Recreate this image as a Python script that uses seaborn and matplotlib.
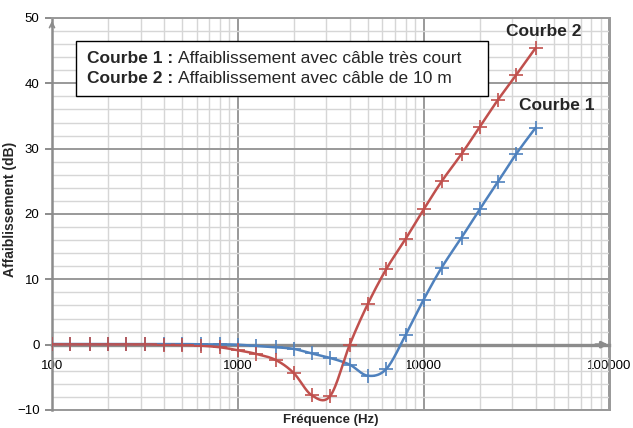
import numpy as np
import pandas as pd
import matplotlib
matplotlib.use("Agg")
import matplotlib.pyplot as plt
import seaborn as sns
from matplotlib.ticker import FixedLocator, LogLocator, MultipleLocator, NullFormatter
from matplotlib.patches import Rectangle

# third-octave frequencies (Hz)
freqs = [100, 125, 160, 200, 250, 315, 400, 500, 630, 800, 1000, 1250, 1600,
         2000, 2500, 3150, 4000, 5000, 6300, 8000, 10000, 12500, 16000,
         20000, 25000, 31500, 40000]

# Courbe 1 : cable tres court (blue)
courbe1 = [0.1, 0.1, 0.1, 0.1, 0.1, 0.1, 0.1, 0.1, 0.05, 0.05, 0.0, -0.2, -0.4,
           -0.65, -1.35, -2.05, -3.06, -4.75, -3.7, 1.5, 6.9, 11.8, 16.4,
           20.7, 24.85, 29.2, 33.2]

# Courbe 2 : cable de 10 m (red)
courbe2 = [0.05, 0.05, 0.05, 0.05, 0.05, 0.05, 0.0, -0.05, -0.15, -0.4, -0.85, -1.4, -2.35,
           -4.35, -7.75, -7.8, 0.0, 6.2, 11.6, 16.2, 20.7, 25.0, 29.2,
           33.3, 37.4, 41.3, 45.4]

xticks = [100, 1000, 10000, 100000]
xticklabels = ["100", "1000", "10000", "100000"]

blue = "#4F81BD"
red = "#C0504D"


def smooth(f, y, n=24):
    # Excel-like smoothed line (Catmull-Rom in screen-like space)
    u = np.log10(f) * 186.0
    v = np.asarray(y, dtype=float) * 6.53
    P = np.column_stack([u, v])
    P = np.vstack([P[0], P, P[-1]])
    out = []
    t = np.linspace(0, 1, n, endpoint=False)[:, None]
    for i in range(1, len(P) - 2):
        p0, p1, p2, p3 = P[i - 1], P[i], P[i + 1], P[i + 2]
        out.append(0.5 * (2 * p1 + (-p0 + p2) * t + (2 * p0 - 5 * p1 + 4 * p2 - p3) * t ** 2
                          + (-p0 + 3 * p1 - 3 * p2 + p3) * t ** 3))
    out.append(P[-2][None])
    pts = np.vstack(out)
    return 10 ** (pts[:, 0] / 186.0), pts[:, 1] / 6.53


sns.set_style("white")
plt.rcParams['font.family'] = ['Liberation Sans', 'DejaVu Sans']

fig = plt.figure(figsize=(6.33, 4.28), dpi=100)
ax = fig.add_axes([52 / 633, 18 / 428, 557.5 / 633, 392 / 428])

for vals, col in [(courbe1, blue), (courbe2, red)]:
    sx, sy = smooth(freqs, vals)
    line = pd.DataFrame({"f": sx, "dB": sy})
    sns.lineplot(data=line, x="f", y="dB", sort=False, estimator=None,
                 color=col, linewidth=1.8, ax=ax, zorder=4)
    pts = pd.DataFrame({"f": freqs, "dB": vals})
    sns.scatterplot(data=pts, x="f", y="dB", marker="+", s=90, linewidth=1.2,
                    color=col, ax=ax, zorder=5)

ax.set_xscale("log")
ax.set_xlim(100, 100000)
ax.set_ylim(-10, 50)

ax.xaxis.set_major_locator(FixedLocator(xticks))
ax.set_xticklabels(xticklabels)
ax.xaxis.set_minor_locator(LogLocator(base=10, subs=np.arange(2, 10)))
ax.xaxis.set_minor_formatter(NullFormatter())
ax.yaxis.set_major_locator(MultipleLocator(10))
ax.yaxis.set_minor_locator(MultipleLocator(2))

ax.grid(which="major", color="#999999", linewidth=1.4)
ax.grid(which="minor", color="#d6d6d6", linewidth=1.0)
ax.set_axisbelow(True)

gray = "#8c8c8c"
ax.spines['bottom'].set_position(('data', 0))
ax.spines['bottom'].set_color(gray)
ax.spines['bottom'].set_linewidth(2.4)
ax.spines['bottom'].set_zorder(3)
ax.spines['left'].set_color(gray)
ax.spines['left'].set_linewidth(1.8)
for s in ['top', 'right']:
    ax.spines[s].set_color("#999999")
    ax.spines[s].set_linewidth(1.4)
ax.axhline(-10, color="#999999", linewidth=1.4, clip_on=False)

ax.tick_params(axis='x', which='both', length=0, pad=11, labelsize=9.5, labelcolor="black")
ax.tick_params(axis='y', which='major', length=5, width=1.4, color=gray, pad=4,
               labelsize=9.5, labelcolor="black", left=True)
ax.tick_params(axis='y', which='minor', length=0)

# axis arrows
ax.annotate('', xy=(1.003, 0), xycoords=ax.get_yaxis_transform(),
            xytext=(0.97, 0), textcoords=ax.get_yaxis_transform(),
            arrowprops=dict(arrowstyle='-|>', color=gray, lw=2.0, mutation_scale=9))
ax.annotate('', xy=(0, 1.0), xycoords='axes fraction',
            xytext=(0, 0.97), textcoords='axes fraction',
            arrowprops=dict(arrowstyle='->', color=gray, lw=1.2, mutation_scale=9))

ax.set_xlabel("Fréquence (Hz)", fontsize=9.5, fontweight="bold")
ax.xaxis.set_label_coords(0.5, -0.01)
ax.set_ylabel("Affaiblissement (dB)", fontsize=10, fontweight="bold")
ax.yaxis.set_label_coords(-0.063, 0.513)

# annotation box
ax.add_patch(Rectangle((76 / 633, 1 - 96 / 428), 412 / 633, 55 / 428,
                       transform=fig.transFigure, facecolor="white",
                       edgecolor="black", linewidth=1.0, zorder=10, clip_on=False))
for yb, num, desc in [(63, "Courbe 1 :", "Affaiblissement avec câble très court"),
                      (83, "Courbe 2 :", "Affaiblissement avec câble de 10 m")]:
    t1 = ax.text(87 / 633, 1 - yb / 428, num, transform=fig.transFigure,
                 fontsize=12.5, fontweight="bold", va="baseline", ha="left", zorder=11)
    ax.annotate(desc, xy=(1, 0), xycoords=t1, xytext=(3.5, 0), textcoords="offset points",
                fontsize=12.5, va="bottom", ha="left", annotation_clip=False, zorder=11)

ax.text(544 / 633, 1 - 32 / 428, "Courbe 2", transform=fig.transFigure, fontsize=12.5,
        fontweight="bold", ha="center", va="center", zorder=11)
ax.text(557 / 633, 1 - 106 / 428, "Courbe 1", transform=fig.transFigure, fontsize=12.5,
        fontweight="bold", ha="center", va="center", zorder=11)

fig.savefig("out.png", dpi=100)
